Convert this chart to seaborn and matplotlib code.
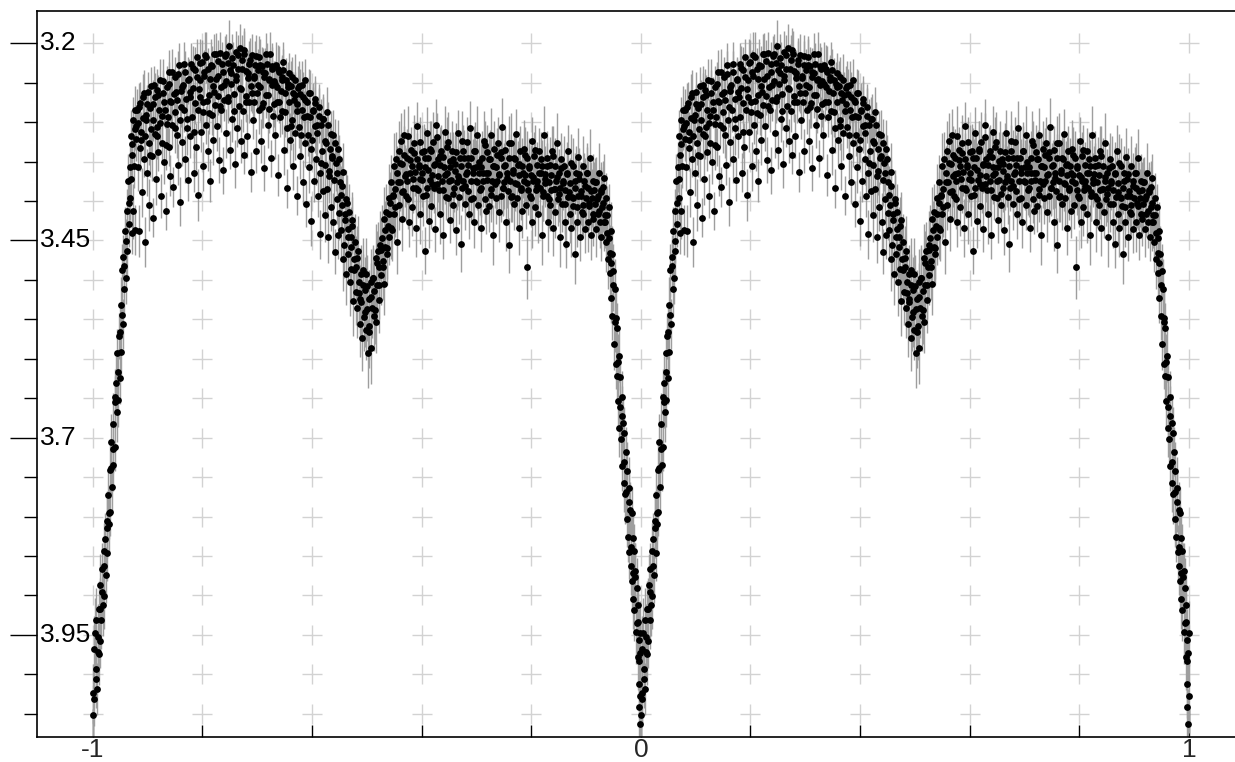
import numpy as np
import pandas as pd
import matplotlib
matplotlib.use("Agg")
import matplotlib.pyplot as plt
from matplotlib.ticker import MultipleLocator
import seaborn as sns

# ---- one folded cycle of the light curve (phase 0..1) ----
PHASE = [
    0.001, 0.002, 0.003, 0.004, 0.006, 0.007, 0.008, 0.009, 0.011, 0.012,
    0.013, 0.014, 0.016, 0.017, 0.018, 0.020, 0.021, 0.023, 0.024, 0.026,
    0.027, 0.028, 0.030, 0.031, 0.032, 0.034, 0.035, 0.037, 0.038, 0.040,
    0.041, 0.042, 0.044, 0.045, 0.046, 0.048, 0.049, 0.051, 0.052, 0.054,
    0.055, 0.056, 0.058, 0.059, 0.060, 0.062, 0.063, 0.065, 0.066, 0.068,
    0.069, 0.070, 0.071, 0.072, 0.073, 0.074, 0.075, 0.077, 0.078, 0.080,
    0.081, 0.082, 0.083, 0.085, 0.086, 0.087, 0.088, 0.090, 0.091, 0.093,
    0.094, 0.095, 0.096, 0.098, 0.099, 0.100, 0.102, 0.103, 0.104, 0.106,
    0.107, 0.108, 0.110, 0.111, 0.113, 0.114, 0.115, 0.117, 0.118, 0.120,
    0.121, 0.123, 0.124, 0.126, 0.127, 0.128, 0.130, 0.131, 0.133, 0.135,
    0.136, 0.137, 0.139, 0.140, 0.142, 0.143, 0.145, 0.146, 0.148, 0.150,
    0.151, 0.153, 0.154, 0.156, 0.157, 0.159, 0.160, 0.162, 0.163, 0.165,
    0.166, 0.168, 0.169, 0.171, 0.172, 0.174, 0.175, 0.177, 0.178, 0.180,
    0.181, 0.183, 0.184, 0.186, 0.187, 0.189, 0.190, 0.192, 0.193, 0.195,
    0.196, 0.198, 0.199, 0.201, 0.202, 0.204, 0.205, 0.207, 0.208, 0.210,
    0.211, 0.213, 0.214, 0.216, 0.217, 0.219, 0.220, 0.222, 0.223, 0.225,
    0.226, 0.228, 0.229, 0.231, 0.232, 0.234, 0.235, 0.237, 0.238, 0.240,
    0.241, 0.243, 0.244, 0.246, 0.247, 0.249, 0.250, 0.252, 0.253, 0.255,
    0.256, 0.258, 0.259, 0.261, 0.262, 0.264, 0.265, 0.267, 0.268, 0.270,
    0.271, 0.273, 0.274, 0.276, 0.277, 0.279, 0.280, 0.282, 0.283, 0.285,
    0.286, 0.288, 0.289, 0.291, 0.292, 0.294, 0.295, 0.297, 0.298, 0.300,
    0.301, 0.303, 0.304, 0.306, 0.307, 0.309, 0.310, 0.312, 0.313, 0.315,
    0.316, 0.318, 0.319, 0.321, 0.322, 0.324, 0.325, 0.327, 0.328, 0.330,
    0.331, 0.333, 0.334, 0.336, 0.337, 0.339, 0.340, 0.342, 0.343, 0.345,
    0.346, 0.348, 0.349, 0.351, 0.352, 0.354, 0.355, 0.357, 0.358, 0.360,
    0.361, 0.363, 0.364, 0.366, 0.367, 0.369, 0.370, 0.372, 0.373, 0.375,
    0.376, 0.378, 0.379, 0.381, 0.382, 0.384, 0.385, 0.387, 0.388, 0.390,
    0.391, 0.393, 0.394, 0.396, 0.397, 0.399, 0.400, 0.402, 0.403, 0.405,
    0.406, 0.408, 0.409, 0.411, 0.412, 0.414, 0.415, 0.417, 0.418, 0.420,
    0.421, 0.423, 0.424, 0.426, 0.427, 0.429, 0.430, 0.432, 0.433, 0.435,
    0.436, 0.438, 0.439, 0.441, 0.442, 0.444, 0.445, 0.447, 0.448, 0.450,
    0.451, 0.453, 0.454, 0.456, 0.457, 0.459, 0.460, 0.462, 0.463, 0.465,
    0.466, 0.468, 0.469, 0.471, 0.472, 0.474, 0.475, 0.477, 0.478, 0.480,
    0.481, 0.483, 0.484, 0.486, 0.487, 0.489, 0.490, 0.492, 0.493, 0.495,
    0.496, 0.498, 0.499, 0.501, 0.502, 0.504, 0.505, 0.507, 0.508, 0.510,
    0.511, 0.513, 0.514, 0.516, 0.517, 0.519, 0.520, 0.522, 0.523, 0.525,
    0.526, 0.528, 0.529, 0.531, 0.532, 0.534, 0.535, 0.537, 0.538, 0.540,
    0.541, 0.543, 0.544, 0.546, 0.547, 0.549, 0.550, 0.552, 0.553, 0.555,
    0.556, 0.558, 0.559, 0.561, 0.562, 0.564, 0.565, 0.567, 0.568, 0.570,
    0.571, 0.573, 0.574, 0.576, 0.577, 0.579, 0.580, 0.582, 0.583, 0.585,
    0.586, 0.588, 0.589, 0.591, 0.592, 0.594, 0.595, 0.597, 0.598, 0.600,
    0.601, 0.603, 0.604, 0.606, 0.607, 0.609, 0.610, 0.612, 0.613, 0.615,
    0.616, 0.618, 0.619, 0.621, 0.622, 0.624, 0.625, 0.627, 0.628, 0.630,
    0.631, 0.633, 0.634, 0.636, 0.637, 0.639, 0.640, 0.642, 0.643, 0.645,
    0.646, 0.648, 0.649, 0.651, 0.652, 0.654, 0.655, 0.657, 0.658, 0.660,
    0.661, 0.663, 0.664, 0.666, 0.667, 0.669, 0.670, 0.672, 0.673, 0.675,
    0.676, 0.678, 0.679, 0.681, 0.682, 0.684, 0.685, 0.687, 0.688, 0.690,
    0.691, 0.693, 0.694, 0.696, 0.697, 0.699, 0.700, 0.702, 0.703, 0.705,
    0.706, 0.708, 0.709, 0.711, 0.712, 0.714, 0.715, 0.717, 0.718, 0.720,
    0.721, 0.723, 0.724, 0.726, 0.727, 0.729, 0.730, 0.732, 0.733, 0.735,
    0.736, 0.738, 0.739, 0.741, 0.742, 0.744, 0.745, 0.747, 0.748, 0.750,
    0.751, 0.753, 0.754, 0.756, 0.757, 0.759, 0.760, 0.762, 0.763, 0.765,
    0.766, 0.768, 0.769, 0.771, 0.772, 0.774, 0.775, 0.777, 0.778, 0.780,
    0.781, 0.783, 0.784, 0.786, 0.787, 0.789, 0.790, 0.792, 0.793, 0.795,
    0.796, 0.798, 0.799, 0.801, 0.802, 0.804, 0.805, 0.807, 0.808, 0.810,
    0.811, 0.813, 0.814, 0.816, 0.817, 0.819, 0.820, 0.822, 0.823, 0.825,
    0.826, 0.828, 0.829, 0.831, 0.832, 0.834, 0.835, 0.837, 0.838, 0.840,
    0.841, 0.843, 0.844, 0.846, 0.847, 0.849, 0.850, 0.852, 0.853, 0.855,
    0.856, 0.858, 0.859, 0.861, 0.862, 0.864, 0.865, 0.867, 0.868, 0.870,
    0.871, 0.873, 0.874, 0.876, 0.877, 0.879, 0.880, 0.882, 0.883, 0.885,
    0.886, 0.888, 0.889, 0.891, 0.892, 0.894, 0.895, 0.897, 0.898, 0.900,
    0.901, 0.903, 0.904, 0.906, 0.907, 0.909, 0.910, 0.912, 0.913, 0.915,
    0.916, 0.918, 0.919, 0.921, 0.922, 0.924, 0.925, 0.927, 0.928, 0.930,
    0.931, 0.932, 0.933, 0.935, 0.936, 0.937, 0.939, 0.940, 0.941, 0.943,
    0.944, 0.945, 0.946, 0.947, 0.948, 0.950, 0.951, 0.952, 0.954, 0.955,
    0.956, 0.957, 0.958, 0.960, 0.961, 0.962, 0.963, 0.965, 0.966, 0.968,
    0.969, 0.970, 0.971, 0.973, 0.974, 0.975, 0.977, 0.978, 0.979, 0.981,
    0.982, 0.983, 0.984, 0.985, 0.986, 0.987, 0.988, 0.990, 0.991, 0.993,
    0.994, 0.995, 0.995, 0.996, 0.997, 0.997, 0.998, 0.998, 0.999, 0.999,
]

MAG = [
    4.052, 3.968, 4.031, 3.947, 4.006, 3.931, 4.018, 3.952, 3.917, 3.974,
    3.958, 3.887, 3.931, 3.866, 3.912, 3.843, 3.901, 3.829, 3.874, 3.806,
    3.846, 3.772, 3.809, 3.741, 3.794, 3.706, 3.763, 3.682, 3.735, 3.648,
    3.712, 3.631, 3.668, 3.593, 3.652, 3.571, 3.624, 3.532, 3.591, 3.488,
    3.556, 3.471, 3.512, 3.438, 3.497, 3.412, 3.463, 3.374, 3.429, 3.357,
    3.396, 3.318, 3.441, 3.342, 3.297, 3.413, 3.356, 3.284, 3.437, 3.321,
    3.284, 3.357, 3.301, 3.438, 3.276, 3.333, 3.312, 3.389, 3.295, 3.347,
    3.263, 3.318, 3.452, 3.291, 3.364, 3.277, 3.326, 3.405, 3.282, 3.309,
    3.254, 3.343, 3.297, 3.421, 3.268, 3.315, 3.372, 3.259, 3.306, 3.338,
    3.285, 3.246, 3.394, 3.292, 3.327, 3.263, 3.351, 3.274, 3.413, 3.302,
    3.256, 3.294, 3.331, 3.237, 3.368, 3.275, 3.303, 3.382, 3.264, 3.287,
    3.243, 3.316, 3.272, 3.354, 3.228, 3.297, 3.401, 3.261, 3.325, 3.253,
    3.284, 3.236, 3.347, 3.271, 3.308, 3.373, 3.245, 3.262, 3.317, 3.226,
    3.293, 3.257, 3.364, 3.234, 3.276, 3.331, 3.218, 3.285, 3.392, 3.246,
    3.268, 3.313, 3.224, 3.287, 3.356, 3.241, 3.215, 3.304, 3.273, 3.336,
    3.232, 3.265, 3.374, 3.227, 3.291, 3.254, 3.323, 3.214, 3.278, 3.245,
    3.305, 3.223, 3.267, 3.348, 3.212, 3.256, 3.284, 3.237, 3.361, 3.272,
    3.216, 3.248, 3.314, 3.225, 3.273, 3.204, 3.335, 3.252, 3.238, 3.296,
    3.227, 3.264, 3.353, 3.211, 3.246, 3.307, 3.233, 3.279, 3.206, 3.324,
    3.258, 3.221, 3.286, 3.342, 3.213, 3.267, 3.235, 3.318, 3.244, 3.275,
    3.226, 3.363, 3.254, 3.215, 3.297, 3.242, 3.274, 3.228, 3.337, 3.263,
    3.234, 3.285, 3.217, 3.256, 3.324, 3.229, 3.276, 3.243, 3.358, 3.238,
    3.265, 3.226, 3.304, 3.247, 3.283, 3.214, 3.346, 3.253, 3.232, 3.277,
    3.248, 3.316, 3.227, 3.274, 3.255, 3.367, 3.236, 3.294, 3.261, 3.243,
    3.286, 3.234, 3.335, 3.263, 3.247, 3.308, 3.384, 3.256, 3.275, 3.322,
    3.254, 3.297, 3.243, 3.356, 3.272, 3.314, 3.265, 3.393, 3.286, 3.257,
    3.306, 3.264, 3.343, 3.285, 3.253, 3.376, 3.294, 3.327, 3.272, 3.404,
    3.275, 3.316, 3.357, 3.263, 3.294, 3.425, 3.323, 3.286, 3.374, 3.305,
    3.276, 3.347, 3.314, 3.393, 3.292, 3.365, 3.442, 3.304, 3.336, 3.387,
    3.296, 3.354, 3.418, 3.327, 3.385, 3.303, 3.446, 3.362, 3.334, 3.407,
    3.345, 3.316, 3.426, 3.373, 3.464, 3.352, 3.397, 3.334, 3.443, 3.415,
    3.376, 3.437, 3.405, 3.474, 3.363, 3.456, 3.424, 3.493, 3.397, 3.446,
    3.467, 3.414, 3.503, 3.445, 3.486, 3.424, 3.527, 3.473, 3.452, 3.515,
    3.484, 3.536, 3.463, 3.517, 3.556, 3.492, 3.528, 3.574, 3.506, 3.547,
    3.513, 3.564, 3.492, 3.537, 3.593, 3.524, 3.558, 3.502, 3.586, 3.535,
    3.497, 3.546, 3.514, 3.472, 3.553, 3.506, 3.463, 3.525, 3.484, 3.456,
    3.494, 3.447, 3.476, 3.423, 3.505, 3.458, 3.414, 3.467, 3.432, 3.396,
    3.445, 3.403, 3.376, 3.437, 3.394, 3.356, 3.416, 3.385, 3.347, 3.452,
    3.364, 3.337, 3.405, 3.376, 3.324, 3.423, 3.353, 3.387, 3.316, 3.368,
    3.393, 3.345, 3.374, 3.317, 3.426, 3.364, 3.335, 3.407, 3.356, 3.384,
    3.326, 3.363, 3.434, 3.347, 3.305, 3.386, 3.354, 3.417, 3.372, 3.338,
    3.365, 3.394, 3.336, 3.463, 3.357, 3.314, 3.383, 3.346, 3.425, 3.373,
    3.334, 3.406, 3.367, 3.325, 3.384, 3.353, 3.436, 3.304, 3.378, 3.347,
    3.386, 3.354, 3.417, 3.336, 3.375, 3.443, 3.344, 3.367, 3.313, 3.395,
    3.364, 3.325, 3.396, 3.357, 3.424, 3.373, 3.336, 3.405, 3.347, 3.384,
    3.353, 3.437, 3.376, 3.314, 3.368, 3.395, 3.346, 3.454, 3.383, 3.337,
    3.375, 3.346, 3.404, 3.366, 3.325, 3.387, 3.354, 3.416, 3.307, 3.374,
    3.345, 3.396, 3.364, 3.427, 3.336, 3.375, 3.357, 3.316, 3.405, 3.364,
    3.386, 3.357, 3.434, 3.346, 3.375, 3.324, 3.397, 3.365, 3.413, 3.338,
    3.364, 3.406, 3.347, 3.385, 3.316, 3.374, 3.443, 3.356, 3.334, 3.396,
    3.357, 3.375, 3.326, 3.414, 3.366, 3.345, 3.394, 3.306, 3.384, 3.356,
    3.376, 3.335, 3.427, 3.364, 3.387, 3.346, 3.456, 3.375, 3.327, 3.394,
    3.365, 3.404, 3.346, 3.377, 3.315, 3.396, 3.354, 3.434, 3.367, 3.336,
    3.384, 3.356, 3.413, 3.375, 3.334, 3.367, 3.405, 3.346, 3.484, 3.386,
    3.355, 3.394, 3.367, 3.324, 3.426, 3.375, 3.343, 3.407, 3.386, 3.354,
    3.375, 3.416, 3.337, 3.384, 3.365, 3.443, 3.356, 3.394, 3.316, 3.377,
    3.366, 3.394, 3.345, 3.427, 3.376, 3.354, 3.405, 3.386, 3.337, 3.434,
    3.385, 3.356, 3.414, 3.374, 3.326, 3.397, 3.365, 3.446, 3.384, 3.347,
    3.404, 3.375, 3.356, 3.427, 3.386, 3.454, 3.364, 3.395, 3.336, 3.416,
    3.377, 3.434, 3.395, 3.356, 3.406, 3.467, 3.384, 3.365, 3.426, 3.344,
    3.394, 3.366, 3.445, 3.387, 3.414, 3.356, 3.405, 3.374, 3.436, 3.396,
    3.365, 3.427, 3.384, 3.406, 3.345, 3.443, 3.396, 3.374, 3.417, 3.386,
    3.404, 3.376, 3.435, 3.394, 3.416, 3.365, 3.427, 3.386, 3.445, 3.407,
    3.382, 3.427, 3.371, 3.418, 3.452, 3.396, 3.441, 3.474, 3.408, 3.466,
    3.491, 3.438, 3.523, 3.467, 3.546, 3.489, 3.581, 3.512, 3.607, 3.548,
    3.622, 3.561, 3.654, 3.597, 3.688, 3.623, 3.702, 3.649, 3.736, 3.681,
    3.758, 3.694, 3.771, 3.718, 3.803, 3.742, 3.826, 3.764, 3.845, 3.792,
    3.862, 3.796, 3.881, 3.827, 3.904, 3.843, 3.918, 3.869, 3.946, 3.891,
    3.912, 3.978, 3.934, 4.012, 3.957, 4.041, 3.973, 4.063, 3.948, 4.028,
]

# photometric error of each point, in millimagnitudes
ERR_MMAG = [
    38, 42, 35, 44, 37, 40, 33, 41, 36, 39,
    34, 40, 37, 32, 39, 35, 41, 33, 36, 38,
    35, 31, 38, 34, 30, 36, 33, 39, 32, 35,
    30, 34, 37, 31, 35, 29, 33, 36, 30, 34,
    32, 28, 35, 30, 33, 27, 31, 34, 29, 32,
    28, 33, 26, 31, 29, 35, 27, 30, 32, 28,
    26, 30, 24, 33, 27, 29, 25, 31, 28, 23,
    29, 25, 32, 27, 30, 24, 28, 33, 26, 29,
    24, 31, 27, 25, 30, 28, 33, 26, 29, 24,
    30, 26, 28, 32, 25, 29, 27, 31, 24, 28,
    27, 31, 24, 29, 26, 33, 28, 25, 30, 27,
    25, 29, 32, 26, 28, 24, 31, 27, 30, 26,
    29, 26, 30, 24, 33, 27, 25, 31, 28, 26,
    27, 32, 25, 29, 26, 30, 24, 28, 33, 27,
    30, 25, 28, 26, 31, 27, 29, 24, 32, 26,
    26, 30, 27, 33, 25, 28, 31, 26, 29, 24,
    31, 27, 24, 29, 26, 32, 28, 25, 30, 27,
    25, 29, 31, 26, 28, 33, 24, 30, 27, 29,
    28, 24, 30, 27, 32, 25, 29, 26, 31, 28,
    26, 31, 27, 24, 29, 33, 25, 28, 30, 26,
    29, 25, 32, 27, 24, 30, 26, 31, 28, 25,
    27, 30, 26, 33, 28, 24, 31, 27, 29, 32,
    30, 26, 29, 25, 31, 28, 24, 32, 27, 29,
    26, 31, 28, 24, 30, 27, 33, 25, 29, 28,
    29, 27, 32, 26, 28, 31, 25, 30, 27, 33,
    31, 28, 26, 30, 27, 34, 29, 25, 32, 28,
    27, 32, 29, 26, 31, 28, 33, 30, 26, 29,
    30, 27, 33, 29, 26, 32, 28, 31, 27, 34,
    28, 33, 30, 27, 35, 29, 31, 34, 28, 32,
    32, 29, 34, 31, 36, 28, 33, 30, 35, 31,
    34, 31, 36, 33, 29, 35, 32, 37, 30, 34,
    35, 38, 33, 40, 36, 42, 34, 39, 37, 41,
    38, 35, 43, 37, 40, 36, 44, 39, 35, 42,
    40, 37, 44, 38, 42, 36, 45, 41, 39, 43,
    42, 38, 45, 40, 44, 37, 43, 41, 46, 39,
    41, 44, 38, 43, 40, 45, 37, 42, 39, 44,
    38, 42, 36, 41, 39, 44, 35, 40, 37, 43,
    36, 40, 34, 39, 37, 42, 33, 38, 35, 41,
    34, 38, 32, 37, 35, 40, 31, 36, 33, 39,
    33, 36, 30, 38, 32, 35, 29, 37, 34, 31,
    35, 31, 37, 33, 30, 36, 32, 38, 29, 34,
    32, 37, 34, 30, 36, 33, 39, 31, 35, 28,
    36, 30, 33, 38, 31, 35, 29, 34, 37, 32,
    31, 35, 38, 32, 36, 30, 34, 37, 33, 29,
    34, 38, 31, 36, 29, 33, 37, 32, 35, 30,
    37, 32, 35, 30, 38, 34, 31, 36, 29, 33,
    30, 36, 33, 37, 31, 35, 38, 32, 34, 29,
    35, 31, 38, 33, 36, 30, 34, 37, 32, 36,
    32, 37, 30, 35, 33, 38, 31, 36, 29, 34,
    36, 33, 37, 31, 34, 30, 38, 32, 35, 33,
    31, 35, 32, 38, 30, 36, 33, 37, 34, 29,
    34, 30, 36, 33, 37, 31, 35, 29, 38, 32,
    37, 33, 31, 35, 32, 38, 30, 34, 36, 31,
    30, 36, 34, 29, 37, 33, 31, 35, 40, 32,
    35, 32, 38, 30, 34, 36, 31, 37, 33, 29,
    33, 37, 30, 35, 32, 38, 34, 31, 36, 30,
    36, 31, 34, 38, 30, 35, 33, 37, 32, 36,
    32, 36, 33, 30, 37, 34, 31, 38, 35, 33,
    35, 30, 38, 33, 36, 31, 39, 34, 32, 37,
    31, 37, 34, 36, 30, 38, 33, 35, 32, 36,
    36, 33, 31, 37, 34, 39, 32, 35, 30, 38,
    33, 38, 35, 31, 36, 32, 37, 34, 30, 35,
    37, 32, 36, 34, 30, 38, 33, 35, 31, 36,
    33, 36, 31, 35, 38, 32, 34, 37, 30, 36,
    34, 37, 32, 36, 30, 35, 33, 38, 31, 36,
    35, 32, 37, 33, 36, 30, 38, 34, 31, 37,
    36, 33, 38, 31, 35, 37, 32, 39, 34, 36,
    37, 34, 39, 35, 38, 33, 40, 36, 41, 38,
    39, 42, 37, 43, 40, 44, 38, 45, 41, 46,
]

# ---- a second run of observations of the same cycle ----
PHASE_B = [
    0.0015, 0.0055, 0.0095, 0.0135, 0.0175, 0.0215, 0.0255, 0.0295, 0.0335, 0.0375,
    0.0415, 0.0455, 0.0495, 0.0535, 0.0575, 0.0615, 0.0655, 0.0695, 0.0725, 0.0765,
    0.0795, 0.0845, 0.0875, 0.0915, 0.0965, 0.1005, 0.1045, 0.1095, 0.1125, 0.1165,
    0.1195, 0.1235, 0.1275, 0.1315, 0.1345, 0.1385, 0.1415, 0.1455, 0.1495, 0.1525,
    0.1565, 0.1605, 0.1635, 0.1675, 0.1715, 0.1745, 0.1785, 0.1825, 0.1855, 0.1895,
    0.1935, 0.1965, 0.2005, 0.2035, 0.2075, 0.2115, 0.2145, 0.2185, 0.2215, 0.2255,
    0.2295, 0.2325, 0.2365, 0.2395, 0.2435, 0.2475, 0.2505, 0.2545, 0.2575, 0.2615,
    0.2655, 0.2685, 0.2725, 0.2755, 0.2795, 0.2835, 0.2865, 0.2905, 0.2935, 0.2975,
    0.3015, 0.3045, 0.3085, 0.3115, 0.3155, 0.3195, 0.3225, 0.3265, 0.3295, 0.3335,
    0.3375, 0.3405, 0.3445, 0.3475, 0.3515, 0.3555, 0.3585, 0.3625, 0.3655, 0.3695,
    0.3735, 0.3765, 0.3805, 0.3835, 0.3875, 0.3915, 0.3945, 0.3985, 0.4015, 0.4055,
    0.4095, 0.4125, 0.4165, 0.4195, 0.4235, 0.4275, 0.4305, 0.4345, 0.4375, 0.4415,
    0.4455, 0.4485, 0.4525, 0.4555, 0.4595, 0.4635, 0.4665, 0.4705, 0.4735, 0.4775,
    0.4815, 0.4855, 0.4885, 0.4925, 0.4965, 0.5005, 0.5035, 0.5075, 0.5115, 0.5145,
    0.5185, 0.5225, 0.5255, 0.5295, 0.5335, 0.5365, 0.5405, 0.5445, 0.5475, 0.5515,
    0.5575, 0.5615, 0.5645, 0.5685, 0.5725, 0.5755, 0.5795, 0.5835, 0.5865, 0.5905,
    0.5945, 0.5975, 0.6015, 0.6055, 0.6085, 0.6125, 0.6165, 0.6195, 0.6235, 0.6275,
    0.6305, 0.6345, 0.6385, 0.6415, 0.6455, 0.6495, 0.6525, 0.6565, 0.6605, 0.6635,
    0.6675, 0.6715, 0.6745, 0.6785, 0.6825, 0.6855, 0.6895, 0.6935, 0.6965, 0.7005,
    0.7045, 0.7075, 0.7115, 0.7155, 0.7185, 0.7225, 0.7265, 0.7295, 0.7335, 0.7375,
    0.7405, 0.7445, 0.7485, 0.7515, 0.7555, 0.7595, 0.7625, 0.7665, 0.7705, 0.7735,
    0.7775, 0.7815, 0.7845, 0.7885, 0.7925, 0.7955, 0.7995, 0.8035, 0.8065, 0.8105,
    0.8145, 0.8175, 0.8215, 0.8255, 0.8285, 0.8325, 0.8365, 0.8395, 0.8435, 0.8475,
    0.8505, 0.8545, 0.8585, 0.8615, 0.8655, 0.8695, 0.8725, 0.8765, 0.8805, 0.8835,
    0.8875, 0.8915, 0.8945, 0.8985, 0.9025, 0.9055, 0.9095, 0.9135, 0.9165, 0.9205,
    0.9245, 0.9275, 0.9315, 0.9345, 0.9385, 0.9425, 0.9455, 0.9495, 0.9535, 0.9575,
    0.9615, 0.9655, 0.9695, 0.9735, 0.9775, 0.9815, 0.9855, 0.9895, 0.9925, 0.9965,
]

MAG_B = [
    4.024, 3.993, 3.972, 3.917, 3.895, 3.862, 3.814, 3.795, 3.738, 3.714,
    3.655, 3.617, 3.566, 3.545, 3.482, 3.451, 3.403, 3.372, 3.328, 3.309,
    3.305, 3.281, 3.322, 3.268, 3.297, 3.262, 3.341, 3.277, 3.253, 3.318,
    3.266, 3.301, 3.248, 3.284, 3.329, 3.251, 3.273, 3.236, 3.307, 3.262,
    3.239, 3.281, 3.255, 3.226, 3.296, 3.247, 3.268, 3.231, 3.312, 3.243,
    3.258, 3.225, 3.274, 3.236, 3.218, 3.289, 3.245, 3.229, 3.262, 3.214,
    3.242, 3.279, 3.226, 3.253, 3.213, 3.268, 3.234, 3.219, 3.286, 3.241,
    3.215, 3.257, 3.232, 3.208, 3.274, 3.238, 3.221, 3.263, 3.244, 3.216,
    3.253, 3.227, 3.281, 3.236, 3.214, 3.266, 3.245, 3.229, 3.292, 3.251,
    3.233, 3.274, 3.246, 3.224, 3.287, 3.252, 3.238, 3.305, 3.263, 3.246,
    3.277, 3.254, 3.316, 3.268, 3.247, 3.292, 3.263, 3.334, 3.284, 3.271,
    3.303, 3.281, 3.352, 3.296, 3.324, 3.287, 3.368, 3.315, 3.343, 3.326,
    3.364, 3.347, 3.392, 3.381, 3.416, 3.402, 3.436, 3.458, 3.431, 3.487,
    3.472, 3.503, 3.524, 3.487, 3.541, 3.508, 3.566, 3.521, 3.497, 3.538,
    3.478, 3.506, 3.462, 3.484, 3.437, 3.459, 3.416, 3.434, 3.392, 3.408,
    3.376, 3.352, 3.388, 3.341, 3.366, 3.397, 3.348, 3.372, 3.339, 3.384,
    3.357, 3.325, 3.373, 3.346, 3.392, 3.361, 3.336, 3.378, 3.354, 3.319,
    3.368, 3.343, 3.386, 3.357, 3.332, 3.374, 3.349, 3.391, 3.362, 3.338,
    3.372, 3.355, 3.324, 3.381, 3.363, 3.346, 3.397, 3.358, 3.337, 3.376,
    3.351, 3.384, 3.365, 3.329, 3.373, 3.347, 3.392, 3.356, 3.378, 3.342,
    3.367, 3.338, 3.384, 3.354, 3.371, 3.326, 3.395, 3.361, 3.347, 3.379,
    3.353, 3.386, 3.364, 3.342, 3.377, 3.358, 3.396, 3.369, 3.335, 3.381,
    3.364, 3.347, 3.388, 3.372, 3.356, 3.398, 3.367, 3.343, 3.385, 3.369,
    3.391, 3.358, 3.377, 3.404, 3.366, 3.389, 3.352, 3.396, 3.375, 3.408,
    3.372, 3.393, 3.416, 3.381, 3.364, 3.402, 3.387, 3.423, 3.376, 3.398,
    3.412, 3.389, 3.403, 3.426, 3.418, 3.447, 3.478, 3.506, 3.553, 3.604,
    3.661, 3.672, 3.731, 3.769, 3.782, 3.838, 3.872, 3.876, 3.935, 3.983,
]

ERR_B_MMAG = [
    37, 41, 34, 39, 36, 32, 38, 33, 35, 31,
    33, 30, 34, 29, 32, 28, 31, 27, 30, 26,
    27, 31, 25, 29, 32, 26, 28, 30, 24, 29,
    26, 30, 28, 24, 31, 27, 25, 29, 32, 26,
    29, 25, 31, 27, 24, 30, 26, 28, 33, 25,
    27, 30, 24, 28, 32, 26, 29, 25, 31, 27,
    30, 26, 28, 33, 25, 29, 27, 31, 24, 28,
    25, 29, 31, 27, 24, 30, 28, 26, 32, 27,
    28, 32, 26, 30, 27, 25, 31, 29, 24, 28,
    31, 27, 29, 25, 32, 28, 26, 30, 27, 33,
    29, 32, 28, 31, 27, 33, 30, 26, 34, 29,
    32, 30, 34, 28, 33, 31, 35, 29, 33, 30,
    34, 31, 36, 33, 38, 35, 37, 40, 36, 39,
    41, 38, 43, 40, 44, 39, 45, 42, 38, 43,
    40, 43, 38, 41, 37, 40, 36, 39, 35, 38,
    34, 37, 32, 36, 33, 38, 31, 35, 34, 30,
    36, 32, 35, 38, 31, 34, 37, 33, 36, 30,
    33, 37, 31, 35, 38, 32, 36, 30, 34, 37,
    35, 31, 38, 33, 36, 34, 30, 37, 32, 35,
    32, 36, 34, 30, 37, 33, 35, 38, 31, 34,
    37, 33, 35, 31, 38, 34, 32, 36, 30, 35,
    34, 38, 32, 36, 33, 30, 37, 35, 31, 36,
    31, 35, 37, 33, 30, 36, 34, 38, 32, 35,
    36, 32, 34, 38, 35, 31, 37, 33, 36, 30,
    33, 37, 31, 35, 38, 32, 36, 34, 30, 37,
    35, 32, 36, 34, 37, 33, 36, 34, 38, 35,
    36, 38, 34, 39, 37, 40, 38, 42, 39, 44,
]

X_TICKS = [-1, 0, 1]
X_LABELS = ["-1", "0", "1"]
Y_TICKS = [3.2, 3.45, 3.7, 3.95]
Y_LABELS = ["3.2", "3.45", "3.7", "3.95"]

assert len(PHASE) == len(MAG) == len(ERR_MMAG)
assert len(PHASE_B) == len(MAG_B) == len(ERR_B_MMAG)

sns.set_theme(style="ticks")
plt.rcParams["font.family"] = ["Liberation Sans", "DejaVu Sans"]

one = pd.DataFrame({
    "phase": PHASE + PHASE_B,
    "mag": MAG + MAG_B,
    "err": np.asarray(ERR_MMAG + ERR_B_MMAG) / 1000.0,
})
# the folded cycle is shown twice: phases -1..0 and 0..1
df = pd.concat([one.assign(phase=one["phase"] - 1.0), one], ignore_index=True)

W, H = 1235, 762
fig = plt.figure(figsize=(W / 100, H / 100), dpi=100)
ax = fig.add_axes([37 / W, 25.3 / H, (W - 37) / W, 726 / H])

XLIM = (-1.1015, 1.0838)
YLIM = (4.079, 3.1587)

# light "+" grid marks at every minor grid crossing
gx = np.round(np.arange(-1.0, 1.0001, 0.2), 2)
gy = np.round(np.arange(3.2, 4.0501, 0.05), 2)
GX, GY = np.meshgrid(gx, gy)
ax.plot(GX.ravel(), GY.ravel(), linestyle="none", marker="+",
        markersize=14, markeredgewidth=1.0, color="#d2d2d2", zorder=0)

ax.errorbar(df["phase"], df["mag"], yerr=df["err"], fmt="none",
            ecolor="#9e9e9e", elinewidth=1.0, capsize=0, zorder=2)
sns.scatterplot(data=df, x="phase", y="mag", ax=ax, color="black",
                s=24, linewidth=0, zorder=3, legend=False)

ax.set_xlim(*XLIM)
ax.set_ylim(*YLIM)
ax.set_xlabel("")
ax.set_ylabel("")

ax.set_xticks(X_TICKS, X_LABELS)
ax.xaxis.set_minor_locator(MultipleLocator(0.2))
ax.tick_params(axis="x", which="major", direction="in", length=20, width=1.0,
               color="black", labelsize=19, pad=1, bottom=True, top=False)
ax.tick_params(axis="x", which="minor", direction="in", length=9, width=1.0,
               color="black", bottom=True, top=False)

ax.set_yticks(Y_TICKS)
ax.set_yticklabels([])
ax.yaxis.set_minor_locator(MultipleLocator(0.05))
ax.tick_params(axis="y", which="major", direction="out", length=19.5, width=1.0,
               color="black", left=True, right=False)
ax.tick_params(axis="y", which="minor", direction="out", length=9.5, width=1.0,
               color="black", left=True, right=False)
for v, lab in zip(Y_TICKS, Y_LABELS):
    ax.text(0.0025, v, lab, transform=ax.get_yaxis_transform(), ha="left",
            va="center", fontsize=19, color="black", zorder=5)

for side in ("left", "bottom", "top"):
    ax.spines[side].set_color("black")
    ax.spines[side].set_linewidth(1.2)
ax.spines["right"].set_visible(False)

fig.savefig("out.png", dpi=100)
